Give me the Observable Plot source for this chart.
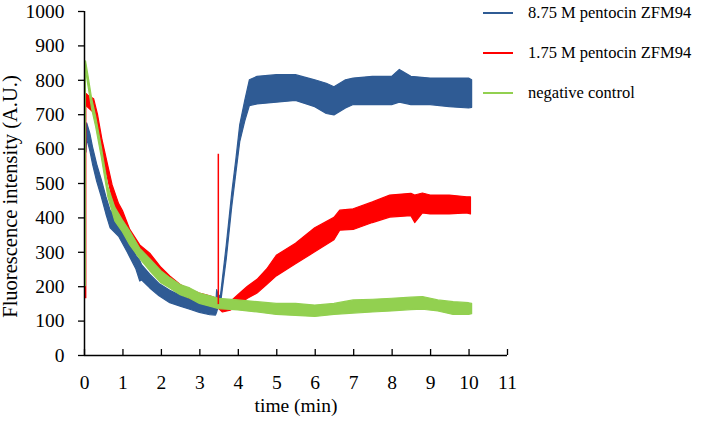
<!DOCTYPE html>
<html><head><meta charset="utf-8">
<script src="https://cdn.jsdelivr.net/npm/d3@7"></script>
<script src="https://cdn.jsdelivr.net/npm/@observablehq/plot@0.6"></script>
<style>
body{margin:0;background:#fff}
#wrap{position:relative;width:702px;height:422px}
#wrap, #wrap svg, #wrap svg text, .leg{font-family:"Liberation Serif","Times New Roman",serif !important}
#wrap svg g[aria-label$="axis tick label"] text, #wrap svg g[aria-label$="axis label"] text{font-size:19.5px}
.leg{position:absolute;left:483px;height:20px;display:flex;align-items:center;font-size:16.5px;color:#000;white-space:nowrap}
.leg .sw{display:inline-block;width:30px;height:2px;margin-right:15px}
</style></head><body><div id="wrap"></div>
<script>
const seriesNames = ["8.75 M pentocin ZFM94", "1.75 M pentocin ZFM94", "negative control"];
const seriesColors = ["#2f5b94", "#ff0000", "#92d050"];
const xTicks = [0,1,2,3,4,5,6,7,8,9,10,11];
const yTicks = [0,100,200,300,400,500,600,700,800,900,1000];
const yTitle = "Fluorescence intensity (A.U.)";
const xTitle = "time (min)";

// 8.75 M pentocin ZFM94 : time, lower and upper edge of the noisy trace
const blueT  = [0.05,0.07,0.15,0.22,0.33,0.45,0.57,0.68,0.9,1.12,1.35,1.45,1.5,1.71,1.95,2.23,2.5,2.75,3.0,3.27,3.42,3.45,3.5,3.55,3.7,3.84,3.95,4.05,4.18,4.3,4.5,5.0,5.5,6.0,6.3,6.5,6.8,7.0,7.5,8.0,8.2,8.5,9.0,9.5,10.0,10.08];
const blueLo = [590,630,595,556,505,460,410,370,345,300,250,215,218,195,172,152,142,133,124,117,116,125,145,150,280,430,530,620,680,725,730,735,740,722,702,698,718,728,728,728,735,728,728,722,718,720];
const blueHi = [620,675,645,606,555,510,460,420,395,345,290,275,262,235,208,188,174,163,152,143,140,190,170,175,320,470,570,670,740,800,810,815,815,800,790,780,800,805,810,810,830,810,805,805,805,800];

// 1.75 M pentocin ZFM94
const redT  = [0.05,0.1,0.25,0.35,0.47,0.6,0.73,0.9,1.0,1.19,1.45,1.71,2.0,2.23,2.5,2.75,3.0,3.27,3.45,3.6,3.8,4.0,4.25,4.5,4.75,5.0,5.5,6.0,6.5,6.65,7.0,7.5,7.95,8.5,8.6,8.8,9.0,9.5,9.95,10.05];
const redLo = [725,720,705,660,585,520,455,405,385,335,290,262,225,205,180,165,155,145,140,125,130,145,165,180,205,230,265,300,335,363,365,385,401,405,385,413,410,410,413,410];
const redHi = [760,755,745,700,625,560,495,440,420,365,320,296,255,230,205,190,180,172,165,150,155,175,200,220,250,290,325,370,400,421,425,445,465,470,465,471,465,465,460,460];

// negative control
const greenT  = [0.04,0.1,0.2,0.3,0.45,0.62,0.8,1.0,1.19,1.45,1.71,2.0,2.23,2.5,2.75,3.0,3.27,3.5,4.0,4.5,5.0,5.5,6.0,6.5,7.0,7.5,8.0,8.5,8.8,9.2,9.6,10.0,10.08];
const greenLo = [830,785,715,665,575,460,390,358,320,280,245,210,195,175,165,150,142,135,131,125,118,115,112,118,122,125,128,132,133,128,118,118,120];
const greenHi = [855,815,745,695,605,490,430,392,360,310,280,245,225,205,195,180,172,165,160,155,150,150,145,150,160,162,165,168,170,160,155,152,150];

// single vertical spikes in the traces: series index, time, lower, upper
const spikeSeries = [1, 2, 1];
const spikeT  = [0.03, 0.02, 3.48];
const spikeLo = [165, 200, 148];
const spikeHi = [755, 850, 585];

const rows = (T, Lo, Hi) => T.map((t, i) => ({t, lo: Lo[i], hi: Hi[i]}));
const bands = [rows(blueT, blueLo, blueHi), rows(redT, redLo, redHi), rows(greenT, greenLo, greenHi)];
const spikes = spikeT.map((t, i) => ({t, lo: spikeLo[i], hi: spikeHi[i], s: spikeSeries[i]}));

const chart = Plot.plot({
  width: 702, height: 422,
  marginLeft: 84, marginRight: 195, marginTop: 11, marginBottom: 67,
  x: {domain: [0, 11]},
  y: {domain: [0, 1000]},
  marks: [
    ...bands.map((b, i) => Plot.areaY(b, {x: "t", y1: "lo", y2: "hi", fill: seriesColors[i], stroke: seriesColors[i], strokeWidth: 1.2})),
    Plot.ruleX(spikes, {x: "t", y1: "lo", y2: "hi", stroke: d => seriesColors[d.s], strokeWidth: 1.5}),
    Plot.ruleY([0], {stroke: "#000", strokeWidth: 1.5}),
    Plot.ruleX([0], {stroke: "#000", strokeWidth: 1.5}),
    Plot.axisY({ticks: yTicks, tickSize: 6, tickPadding: 14, strokeWidth: 1.3, tickFormat: d => String(d), label: null}),
    Plot.text([yTitle], {frameAnchor: "left", textAnchor: "middle", rotate: -90, dx: -74, dy: 13, fontSize: 20.5, fill: "#000"}),
    Plot.axisX({ticks: xTicks, tickSize: 6, dy: -6, strokeWidth: 1.3, tickFormat: () => "", label: null}),
    Plot.axisX({ticks: xTicks, tickSize: 0, tickPadding: 20, tickFormat: d => String(d),
      label: xTitle, labelAnchor: "center", labelOffset: 56, labelArrow: "none"})
  ]
});
const wrap = document.getElementById("wrap");
wrap.appendChild(chart);
const legTop = [3, 43, 83];
seriesNames.forEach((name, i) => {
  const d = document.createElement("div");
  d.className = "leg";
  d.style.top = legTop[i] + "px";
  d.innerHTML = `<span class="sw" style="background:${seriesColors[i]}"></span><span>${name}</span>`;
  wrap.appendChild(d);
});
</script></body></html>
